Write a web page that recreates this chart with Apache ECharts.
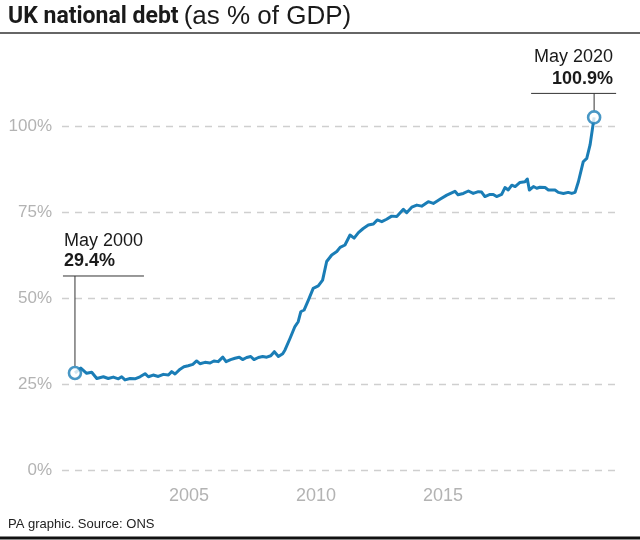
<!DOCTYPE html>
<html>
<head>
<meta charset="utf-8">
<script src="https://cdn.jsdelivr.net/npm/echarts@6/dist/echarts.min.js"></script>
<style>
html,body{margin:0;padding:0;background:#fff;}
#chart{width:640px;height:540px;}
</style>
</head>
<body>
<div id="chart"></div>
<script>
// ---- data ----
const titleMain = 'UK national debt';
const titleSub = '(as % of GDP)';
const sourceText = 'PA graphic. Source: ONS';
const yTicks = [0, 25, 50, 75, 100];
const xTickLabels = [2005, 2010, 2015];
const startNote = ['May 2000', '29.4%'];
const endNote = ['May 2020', '100.9%'];

// position of each reading along the time axis (decimal years)
const years = [
  2000.51, 2000.74, 2000.97, 2001.17, 2001.37, 2001.63, 2001.82, 2002.02, 2002.22, 2002.35,
  2002.48, 2002.68, 2002.87, 2003.07, 2003.27, 2003.40, 2003.59, 2003.79, 2003.99, 2004.19,
  2004.32, 2004.45, 2004.65, 2004.80, 2004.97, 2005.15, 2005.30, 2005.43, 2005.63, 2005.83,
  2005.98, 2006.15, 2006.33, 2006.46, 2006.64, 2006.81, 2006.98, 2007.11, 2007.27, 2007.43,
  2007.56, 2007.73, 2007.90, 2008.06, 2008.22, 2008.36, 2008.52, 2008.69, 2008.78, 2008.98,
  2009.17, 2009.30, 2009.40, 2009.53, 2009.70, 2009.89, 2010.09, 2010.26, 2010.42, 2010.62,
  2010.82, 2010.95, 2011.14, 2011.34, 2011.50, 2011.67, 2011.86, 2012.06, 2012.26, 2012.41,
  2012.59, 2012.78, 2012.98, 2013.18, 2013.44, 2013.57, 2013.77, 2013.97, 2014.16, 2014.42,
  2014.62, 2014.88, 2015.15, 2015.47, 2015.59, 2015.80, 2016.00, 2016.19, 2016.39, 2016.52,
  2016.65, 2016.85, 2016.98, 2017.11, 2017.31, 2017.44, 2017.57, 2017.71, 2017.84, 2018.03,
  2018.23, 2018.32, 2018.40, 2018.56, 2018.69, 2018.82, 2019.02, 2019.15, 2019.41, 2019.54,
  2019.74, 2019.93, 2020.07, 2020.20, 2020.33, 2020.52, 2020.66, 2020.79, 2020.95
];
// debt as % of GDP
const debt = [
  28.2, 29.6, 28.1, 28.4, 26.6, 27.1, 26.6, 27.0, 26.5, 27.1,
  26.2, 26.6, 26.5, 27.1, 28.0, 27.1, 27.6, 27.2, 27.8, 27.6,
  28.6, 27.9, 29.3, 30.0, 30.3, 30.7, 31.7, 30.9, 31.3, 31.1,
  31.7, 31.5, 32.8, 31.5, 32.1, 32.5, 32.8, 32.1, 32.7, 33.0,
  32.1, 32.7, 33.0, 32.8, 33.2, 34.4, 33.0, 33.8, 34.9, 38.3,
  41.7, 43.1, 46.0, 46.5, 49.4, 52.8, 53.5, 55.2, 60.6, 62.5,
  63.5, 64.7, 65.4, 68.3, 67.4, 69.0, 70.2, 71.2, 71.5, 72.7,
  72.2, 72.9, 73.8, 73.7, 75.8, 74.8, 76.4, 77.0, 76.7, 78.0,
  77.5, 78.7, 79.9, 81.0, 80.0, 80.4, 81.1, 80.4, 80.9, 80.8,
  79.5, 80.1, 80.1, 79.5, 80.1, 82.1, 81.4, 82.8, 82.4, 83.6,
  83.8, 84.6, 81.4, 82.4, 81.9, 82.2, 82.1, 81.4, 81.4, 80.7,
  80.4, 80.7, 80.4, 80.7, 83.8, 89.6, 90.6, 94.5, 102.5
];

// ---- chart ----
const BLUE = '#1a7db6';
const FONT = '"Liberation Sans", Arial, sans-serif';
const chart = echarts.init(document.getElementById('chart'), null, {renderer: 'canvas'});
const lineData = years.map((y, i) => [y, debt[i]]);
const last = lineData.length - 1;

chart.setOption({
  animation: false,
  backgroundColor: '#fff',
  title: {
    left: 8, top: 3, padding: 0,
    text: '{b|' + titleMain + '} {r|' + titleSub + '}',
    textStyle: {
      rich: {
        b: {fontFamily: 'Roboto', fontWeight: 'bold', fontSize: 23, color: '#1a1a1a', lineHeight: 28},
        r: {fontFamily: FONT, fontWeight: 'normal', fontSize: 26, color: '#1a1a1a', lineHeight: 28}
      }
    }
  },
  grid: {left: 62, right: 22, top: 126, bottom: 70, containLabel: false},
  xAxis: {
    type: 'value', min: 2000, max: 2021.89, interval: 5,
    axisLine: {show: false}, axisTick: {show: false}, splitLine: {show: false},
    axisLabel: {
      color: '#b3b3b3', fontSize: 18, fontFamily: FONT, margin: 17,
      formatter: v => xTickLabels.indexOf(v) >= 0 ? String(v) : ''
    }
  },
  yAxis: {
    type: 'value', min: yTicks[0], max: yTicks[yTicks.length - 1], interval: 25,
    axisLine: {show: false}, axisTick: {show: false},
    axisLabel: {color: '#b3b3b3', fontSize: 17, fontFamily: FONT, margin: 10, formatter: '{value}%'},
    splitLine: {show: true, lineStyle: {color: '#cfcfcf', width: 1.3, type: [7, 6]}}
  },
  series: [
    {
      type: 'line', data: lineData, symbol: 'none', clip: false,
      lineStyle: {color: BLUE, width: 3, join: 'round'}, z: 3
    },
    {
      type: 'scatter', data: [lineData[0], lineData[last]], clip: false,
      symbol: 'circle', symbolSize: 12,
      itemStyle: {color: '#fff', borderColor: BLUE, borderWidth: 2.6}, z: 5
    }
  ]
});

const p0 = chart.convertToPixel({gridIndex: 0}, lineData[0]);
const pN = chart.convertToPixel({gridIndex: 0}, lineData[last]);
const lineStyle = {stroke: '#333', lineWidth: 1};
const txt = (x, y, text, bold, align, size, color) => ({
  type: 'text', x: x, y: y, z: 10,
  style: {text: text, fill: color || '#1a1a1a', textAlign: align, textVerticalAlign: 'middle',
    font: (bold ? 'bold ' : '') + (size || 18) + 'px ' + FONT}
});
chart.setOption({
  graphic: [
    {type: 'line', shape: {x1: 0, y1: 33, x2: 640, y2: 33}, style: {stroke: '#333', lineWidth: 1.5}},
    {type: 'line', shape: {x1: 0, y1: 538, x2: 640, y2: 538}, style: {stroke: '#111', lineWidth: 3}},
    txt(8, 524, sourceText, false, 'left', 13, '#222'),
    // start annotation
    txt(p0[0] - 11, p0[1] - 132, startNote[0], false, 'left'),
    txt(p0[0] - 11, p0[1] - 112, startNote[1], true, 'left'),
    {type: 'line', shape: {x1: p0[0] - 12, y1: p0[1] - 97, x2: p0[0] + 69, y2: p0[1] - 97}, style: lineStyle},
    {type: 'line', shape: {x1: p0[0], y1: p0[1] - 97, x2: p0[0], y2: p0[1] - 7}, style: lineStyle},
    // end annotation
    txt(pN[0] + 19, pN[1] - 60, endNote[0], false, 'right'),
    txt(pN[0] + 19, pN[1] - 38, endNote[1], true, 'right'),
    {type: 'line', shape: {x1: pN[0] - 63, y1: pN[1] - 24, x2: pN[0] + 22, y2: pN[1] - 24}, style: lineStyle},
    {type: 'line', shape: {x1: pN[0], y1: pN[1] - 24, x2: pN[0], y2: pN[1] - 7}, style: lineStyle}
  ]
});
</script>
</body>
</html>
